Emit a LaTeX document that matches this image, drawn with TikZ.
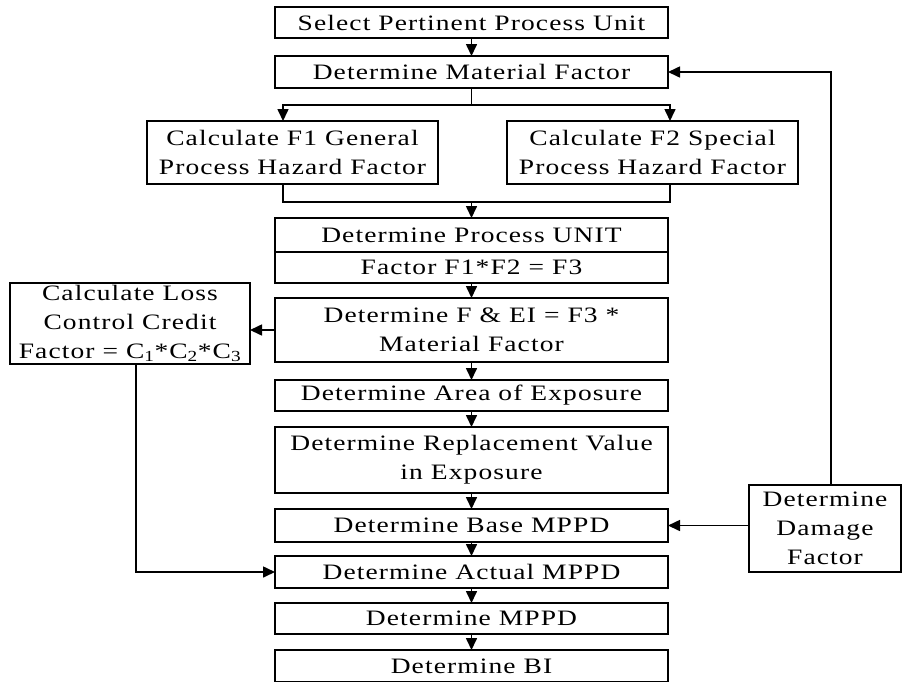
\documentclass[tikz,border=0pt]{standalone}
\usepackage{fontspec}
\setmainfont{Liberation Serif}[FakeStretch=1.25, LetterSpace=5]
\usetikzlibrary{arrows.meta}
\begin{document}
\begin{tikzpicture}[x=1pt,y=-1pt,
  box/.style={draw, line width=1.6pt, inner sep=0pt, outer sep=0pt, align=center,
    font=\fontsize{22}{29}\selectfont},
  mainbox/.style={box, minimum width=393pt},
  conn/.style={line width=1.6pt, -{Triangle[length=12pt,width=11pt]}},
  ln/.style={line width=1.6pt}]
\useasboundingbox (0,0) rectangle (902,681);
\node[mainbox, minimum height=31pt] (b1) at (471.5,22.5) {Select Pertinent Process Unit};
\node[mainbox, minimum height=32pt] (b2) at (471.5,72) {Determine Material Factor};
\node[box, minimum width=291pt, minimum height=63pt] (f1) at (292.5,152.5) {Calculate F1 General\\Process Hazard Factor};
\node[box, minimum width=291pt, minimum height=63pt] (f2) at (652.5,152.5) {Calculate F2 Special\\Process Hazard Factor};
\node[mainbox, minimum height=34pt] (p1) at (471.5,235) {Determine Process UNIT};
\node[mainbox, minimum height=31pt] (p2) at (471.5,267.5) {Factor F1*F2 = F3};
\node[mainbox, minimum height=64pt] (fe) at (471.5,330) {Determine F \& EI = F3 *\\Material Factor};
\node[mainbox, minimum height=31pt] (ar) at (471.5,395.5) {Determine Area of Exposure};
\node[mainbox, minimum height=66pt] (rv) at (471.5,460) {Determine Replacement Value\\in Exposure};
\node[mainbox, minimum height=33pt] (bm) at (471.5,525.5) {Determine Base MPPD};
\node[mainbox, minimum height=32pt] (am) at (471.5,572) {Determine Actual MPPD};
\node[mainbox, minimum height=31pt] (mp) at (471.5,618.5) {Determine MPPD};
\node[mainbox, minimum height=32pt] (bi) at (471.5,666) {Determine BI};
\node[box, minimum width=240pt, minimum height=81pt] (loss) at (130,323.5) {Calculate Loss\\Control Credit\\Factor = C\textsubscript{1}*C\textsubscript{2}*C\textsubscript{3}};
\node[box, minimum width=152pt, minimum height=87pt] (dmg) at (825,528.5) {Determine\\Damage\\Factor};
\coordinate (j1) at (471.5,105);
\coordinate (f1in) at (283,121);
\coordinate (f2in) at (670,121);
\coordinate (f1out) at (283,184);
\coordinate (f2out) at (670,184);
\coordinate (j2) at (471.5,202);
\coordinate (dtop) at (831,485);
\coordinate (lbot) at (136,364);
\draw[conn] (b1) -- (b2);
\draw[ln] (b2.south) -- (j1);
\draw[conn] (j1) -| (f1in);
\draw[conn] (j1) -| (f2in);
\draw[ln] (f1out) |- (j2);
\draw[ln] (f2out) |- (j2);
\draw[conn] (j2) -- (p1.north);
\draw[conn] (p2) -- (fe);
\draw[conn] (fe) -- (ar);
\draw[conn] (ar) -- (rv);
\draw[conn] (rv) -- (bm);
\draw[conn] (bm) -- (am);
\draw[conn] (am) -- (mp);
\draw[conn] (mp) -- (bi);
\draw[conn] (fe.west) -- (fe.west -| loss.east);
\draw[conn] (lbot) |- (am.west);
\draw[conn] (dmg.west |- bm.east) -- (bm.east);
\draw[conn] (dtop) |- (b2.east);
\end{tikzpicture}
\end{document}
